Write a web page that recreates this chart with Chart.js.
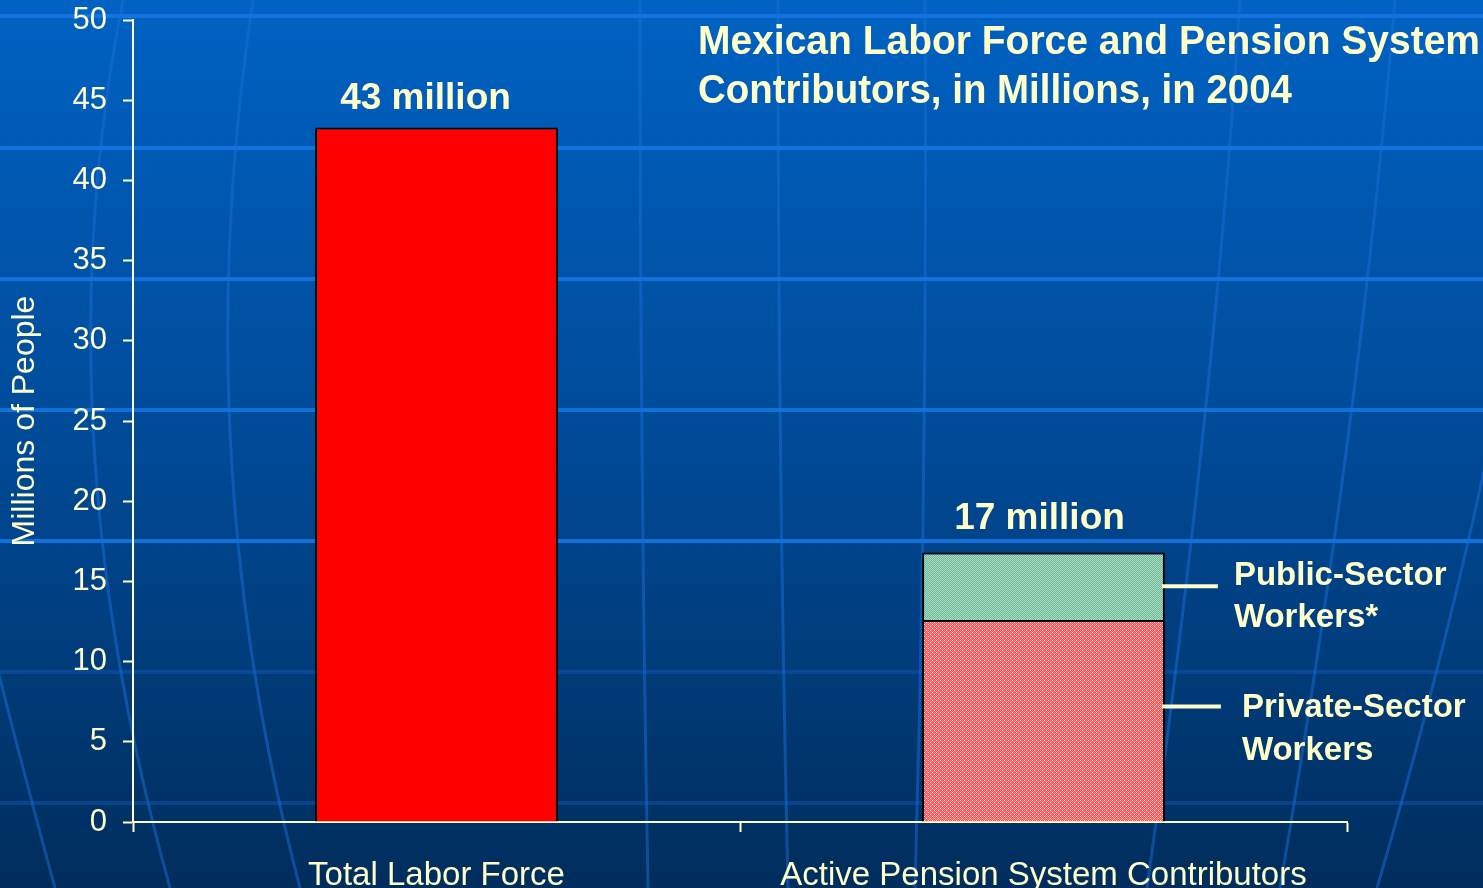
<!DOCTYPE html>
<html>
<head>
<meta charset="utf-8">
<script src="https://cdn.jsdelivr.net/npm/chart.js@4/dist/chart.umd.min.js"></script>
<style>
  html, body { margin: 0; padding: 0; background: #003366; overflow: hidden; }
  #wrap { width: 1483px; height: 888px; position: relative; }
</style>
</head>
<body>
<div id="wrap"><canvas id="myChart" width="1483" height="888"></canvas></div>
<script>
// data
const categories = ['Total Labor Force', 'Active Pension System Contributors'];
const totalLaborForce = [43.3, null];
const privateSector = [null, 12.6];
const publicSector = [null, 4.2];
const topLabels = ['43 million', '17 million'];
const titleLines = ['Mexican Labor Force and Pension System', 'Contributors, in Millions, in 2004'];
const publicLabel = ['Public-Sector', 'Workers*'];
const privateLabel = ['Private-Sector', 'Workers'];

const cream = '#FFFFCC';
const FONT = 'Arial, "Liberation Sans", sans-serif';

// small dither patterns like the old powerpoint fills
function makePattern(a, b, dot) {
    const c = document.createElement('canvas');
    c.width = 4; c.height = 4;
    const g = c.getContext('2d');
    for (let y = 0; y < 4; y++) {
        for (let x = 0; x < 4; x++) {
            g.fillStyle = (x + y) % 2 == 0 ? a : b;
            g.fillRect(x, y, 1, 1);
        }
    }
    if (dot) {
        g.fillStyle = dot;
        g.fillRect(0, 0, 1, 1);
        g.fillRect(2, 2, 1, 1);
    }
    return g.createPattern(c, 'repeat');
}
const pinkFill = makePattern('#FF8484', '#FF5252', '#FFF0F0');
const greenFill = makePattern('#AEDDC5', '#6CB793', null);

// background: blue gradient with a faint globe grid
const background = {
    id: 'background',
    beforeDraw(chart) {
        const ctx = chart.ctx;
        const w = chart.width, h = chart.height;
        ctx.save();
        const grad = ctx.createLinearGradient(0, 0, 0, h);
        grad.addColorStop(0, '#0062C3');
        grad.addColorStop(0.5, '#004A97');
        grad.addColorStop(1, '#002D5C');
        ctx.fillStyle = grad;
        ctx.fillRect(0, 0, w, h);

        // parallels
        const rows = [16, 148, 279, 410, 541, 672, 803];
        rows.forEach((y, i) => {
            ctx.strokeStyle = i < 5 ? 'rgba(20,120,230,0.85)' : 'rgba(20,100,200,0.35)';
            ctx.lineWidth = 4;
            ctx.beginPath();
            ctx.moveTo(0, y);
            ctx.lineTo(w, y);
            ctx.stroke();
        });

        // meridians
        const curves = [
            [123, 0, 40, 420, 170, 888],
            [253, 0, 185, 450, 300, 888],
            [-30, 560, 20, 760, 55, 888],
            [640, 0, 640, 450, 648, 888],
            [778, 0, 778, 450, 788, 888],
            [925, 0, 928, 450, 915, 888],
            [1240, 0, 1215, 400, 1147, 888],
            [1395, 0, 1360, 420, 1280, 888],
            [1560, 0, 1520, 400, 1377, 888]
        ];
        ctx.strokeStyle = 'rgba(25,110,215,0.5)';
        ctx.lineWidth = 3;
        curves.forEach(c => {
            ctx.beginPath();
            ctx.moveTo(c[0], c[1]);
            ctx.quadraticCurveTo(c[2], c[3], c[4], c[5]);
            ctx.stroke();
        });
        ctx.restore();
    }
};

// text squeezed a bit sideways, the slide font is narrower than Arial
function squeezedText(ctx, text, x, y, width) {
    const natural = ctx.measureText(text).width;
    const k = Math.min(1, width / natural);
    ctx.save();
    ctx.translate(x, y);
    ctx.scale(k, 1);
    ctx.fillText(text, 0, 0);
    ctx.restore();
}

const annotations = {
    id: 'annotations',
    afterDatasetsDraw(chart) {
        const ctx = chart.ctx;
        const x = chart.scales.x, y = chart.scales.y;
        ctx.save();
        ctx.fillStyle = cream;

        // totals above the bars
        ctx.font = 'bold 37px ' + FONT;
        ctx.textAlign = 'center';
        ctx.textBaseline = 'alphabetic';
        const offs = [-11, -4];
        const gaps = [18, 24];
        categories.forEach((c, i) => {
            let total = 0;
            chart.data.datasets.forEach(ds => { total += ds.data[i] || 0; });
            const px = x.getPixelForValue(i) + offs[i];
            ctx.fillText(topLabels[i], px, y.getPixelForValue(total) - gaps[i]);
        });

        // leader lines for the stacked parts
        const pub = chart.getDatasetMeta(2).data[1];
        const priv = chart.getDatasetMeta(1).data[1];
        ctx.strokeStyle = cream;
        ctx.lineWidth = 4;
        const pubY = (pub.y + pub.base) / 2;
        const privY = priv.y + (priv.base - priv.y) * 0.43;
        const right = pub.x + pub.width / 2;
        ctx.beginPath();
        ctx.moveTo(right - 3, pubY);
        ctx.lineTo(right + 53, pubY);
        ctx.moveTo(right - 3, privY);
        ctx.lineTo(right + 56, privY);
        ctx.stroke();

        ctx.font = 'bold 33px ' + FONT;
        ctx.textAlign = 'left';
        ctx.fillText(publicLabel[0], right + 69, pubY - 1);
        ctx.fillText(publicLabel[1], right + 69, pubY + 41);
        ctx.fillText(privateLabel[0], right + 77, privY + 10);
        ctx.fillText(privateLabel[1], right + 77, privY + 53);

        // title
        ctx.font = 'bold 41px ' + FONT;
        squeezedText(ctx, titleLines[0], 698, 54, 782);
        squeezedText(ctx, titleLines[1], 698, 103, 594);
        ctx.restore();
    }
};

Chart.defaults.font.family = FONT;
Chart.defaults.color = cream;

const ctx = document.getElementById('myChart');
new Chart(ctx, {
    type: 'bar',
    data: {
        labels: categories,
        datasets: [
            {
                label: 'Total Labor Force',
                data: totalLaborForce,
                backgroundColor: '#FF0000',
                borderColor: '#000000',
                borderWidth: 2
            },
            {
                label: 'Private-Sector Workers',
                data: privateSector,
                backgroundColor: pinkFill,
                borderColor: '#000000',
                borderWidth: 2
            },
            {
                label: 'Public-Sector Workers',
                data: publicSector,
                backgroundColor: greenFill,
                borderColor: '#000000',
                borderWidth: 2
            }
        ]
    },
    options: {
        responsive: false,
        animation: false,
        layout: { padding: { top: 20, right: 136, left: 0, bottom: 0 } },
        datasets: {
            bar: { categoryPercentage: 1, barPercentage: 0.4, borderSkipped: 'bottom' }
        },
        scales: {
            x: {
                stacked: true,
                afterFit: (s) => {
                    s.height = 66;
                    s.paddingLeft = 0;
                    s.paddingRight = 0;
                },
                grid: {
                    drawOnChartArea: false,
                    offset: true,
                    tickLength: 10,
                    tickColor: cream,
                    tickWidth: 2
                },
                border: { color: cream, width: 2 },
                ticks: {
                    color: cream,
                    padding: 24,
                    maxRotation: 0,
                    font: { size: 33 }
                }
            },
            y: {
                stacked: true,
                min: 0,
                max: 50,
                afterFit: (s) => {
                    s.width = 133;
                    s.paddingTop = 0;
                    s.paddingBottom = 0;
                },
                grid: {
                    drawOnChartArea: false,
                    tickLength: 10,
                    tickColor: cream,
                    tickWidth: 2
                },
                border: { color: cream, width: 2 },
                ticks: {
                    stepSize: 5,
                    color: cream,
                    padding: 16,
                    font: { size: 31 }
                },
                title: {
                    display: true,
                    text: 'Millions of People',
                    color: cream,
                    font: { size: 32 },
                    padding: { top: 6, bottom: 0 }
                }
            }
        },
        plugins: {
            legend: { display: false },
            tooltip: { enabled: false },
            title: { display: false }
        }
    },
    plugins: [background, annotations]
});
</script>
</body>
</html>
